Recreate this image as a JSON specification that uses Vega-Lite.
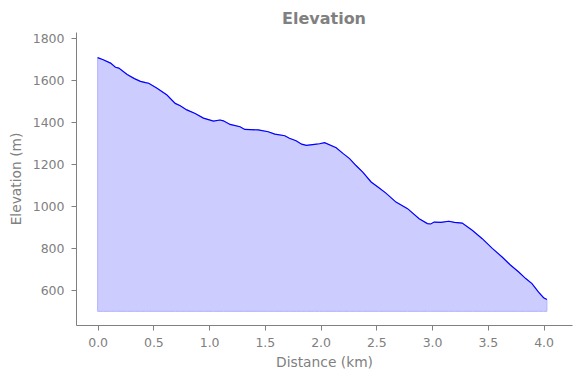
{
  "$schema": "https://vega.github.io/schema/vega-lite/v6.json",
  "autosize": {"type": "none"},
  "padding": {"left": 76, "top": 32, "right": 8, "bottom": 53},
  "width": 496,
  "height": 293,
  "background": "white",
  "title": {"text": "Elevation", "anchor": "middle", "frame": "group", "font": "DejaVu Sans", "fontSize": 16, "fontWeight": "bold", "color": "#808080", "offset": 5},
  "config": {
    "view": {"stroke": null},
    "axis": {"grid": false, "domainColor": "#808080", "tickColor": "#808080", "labelColor": "#808080", "titleColor": "#808080", "labelFont": "DejaVu Sans", "titleFont": "DejaVu Sans", "labelFontSize": 12.5, "titleFontSize": 13.8, "titleFontWeight": "normal", "tickSize": 5, "labelPadding": 6, "domainWidth": 1, "tickWidth": 1}
  },
  "data": {"values": [
    {"d": 0.0, "e": 1708},
    {"d": 0.05, "e": 1698},
    {"d": 0.116, "e": 1682},
    {"d": 0.16, "e": 1662},
    {"d": 0.19, "e": 1658},
    {"d": 0.265, "e": 1628},
    {"d": 0.33, "e": 1608},
    {"d": 0.384, "e": 1595},
    {"d": 0.43, "e": 1589},
    {"d": 0.458, "e": 1586},
    {"d": 0.533, "e": 1562},
    {"d": 0.622, "e": 1530},
    {"d": 0.696, "e": 1490},
    {"d": 0.741, "e": 1479},
    {"d": 0.80, "e": 1459},
    {"d": 0.875, "e": 1442},
    {"d": 0.949, "e": 1420},
    {"d": 1.039, "e": 1406},
    {"d": 1.098, "e": 1411},
    {"d": 1.128, "e": 1407},
    {"d": 1.188, "e": 1390},
    {"d": 1.277, "e": 1379},
    {"d": 1.32, "e": 1366},
    {"d": 1.44, "e": 1364},
    {"d": 1.53, "e": 1355},
    {"d": 1.589, "e": 1344},
    {"d": 1.679, "e": 1336},
    {"d": 1.72, "e": 1324},
    {"d": 1.78, "e": 1312},
    {"d": 1.83, "e": 1296},
    {"d": 1.872, "e": 1290},
    {"d": 1.946, "e": 1295},
    {"d": 1.99, "e": 1298},
    {"d": 2.036, "e": 1303},
    {"d": 2.14, "e": 1279},
    {"d": 2.2, "e": 1252},
    {"d": 2.26, "e": 1227},
    {"d": 2.32, "e": 1193},
    {"d": 2.378, "e": 1163},
    {"d": 2.453, "e": 1116},
    {"d": 2.52, "e": 1090},
    {"d": 2.586, "e": 1063},
    {"d": 2.676, "e": 1020},
    {"d": 2.78, "e": 989},
    {"d": 2.884, "e": 941},
    {"d": 2.958, "e": 918},
    {"d": 2.988, "e": 916},
    {"d": 3.018, "e": 925},
    {"d": 3.08, "e": 924},
    {"d": 3.15, "e": 929},
    {"d": 3.2, "e": 924},
    {"d": 3.27, "e": 920},
    {"d": 3.36, "e": 886},
    {"d": 3.45, "e": 846},
    {"d": 3.54, "e": 800},
    {"d": 3.628, "e": 759},
    {"d": 3.7, "e": 722},
    {"d": 3.777, "e": 687},
    {"d": 3.84, "e": 656},
    {"d": 3.896, "e": 632},
    {"d": 3.955, "e": 592},
    {"d": 4.0, "e": 565},
    {"d": 4.03, "e": 556}
  ]},
  "encoding": {
    "x": {"field": "d", "type": "quantitative", "scale": {"domain": [-0.194, 4.255], "nice": false, "zero": false},
      "axis": {"title": "Distance (km)", "values": [0, 0.5, 1, 1.5, 2, 2.5, 3, 3.5, 4], "format": ".1f", "titlePadding": 7}},
    "y": {"field": "e", "type": "quantitative", "scale": {"domain": [435, 1830], "nice": false, "zero": false},
      "axis": {"title": "Elevation (m)", "values": [600, 800, 1000, 1200, 1400, 1600, 1800], "format": "d", "labelPadding": 7, "titlePadding": 9}}
  },
  "layer": [
    {"mark": {"type": "area", "color": "#ccccff", "stroke": "#b3b3ff", "strokeWidth": 1, "opacity": 1}, "encoding": {"y2": {"datum": 500}}},
    {"mark": {"type": "line", "color": "#0000ff", "strokeWidth": 1.2}}
  ]
}
